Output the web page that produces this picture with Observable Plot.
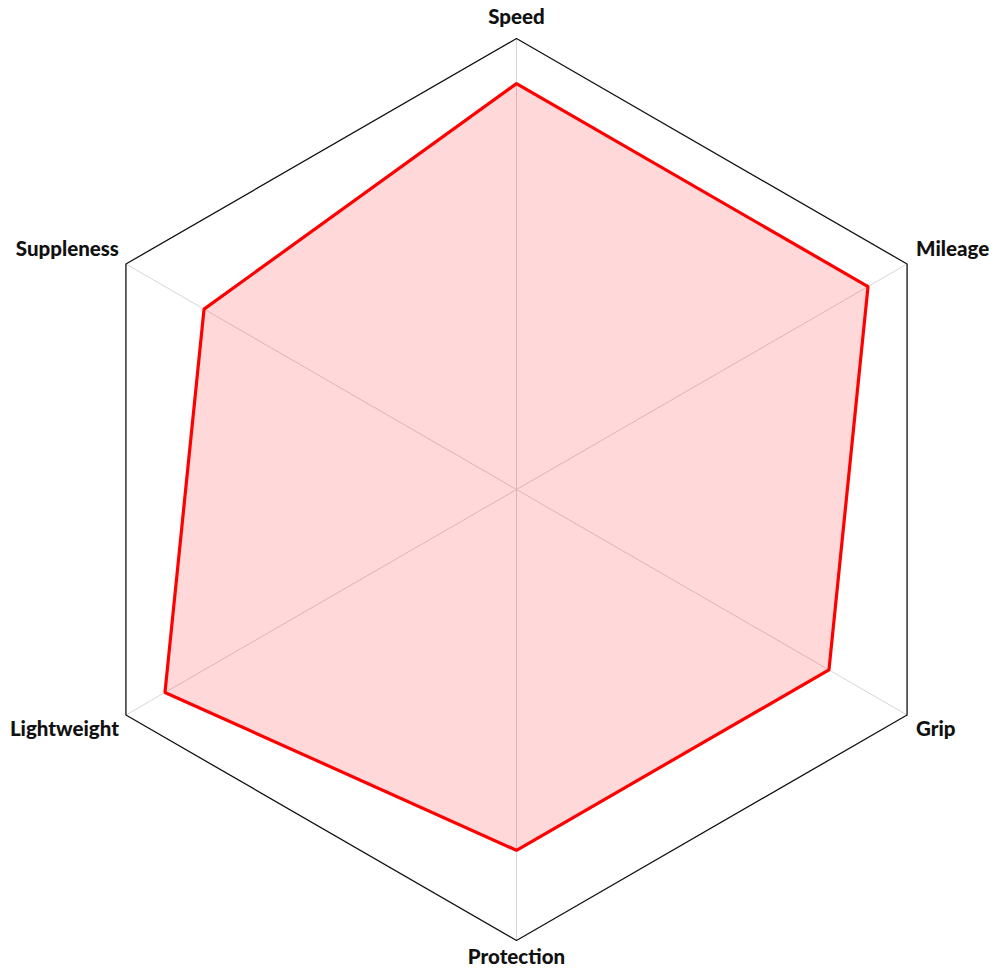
<!DOCTYPE html>
<html>
<head>
<meta charset="utf-8">
<script src="https://cdn.jsdelivr.net/npm/d3@7"></script>
<script src="https://cdn.jsdelivr.net/npm/@observablehq/plot@0.6"></script>
<style>
  html, body { margin: 0; padding: 0; background: #fff; }
</style>
</head>
<body>
<div id="chart"></div>
<script>
const categories = ["Speed", "Mileage", "Grip", "Protection", "Lightweight", "Suppleness"];
const values = [0.9, 0.9, 0.8, 0.8, 0.9, 0.8];
const maxValue = 1;

const n = categories.length;
const angle = i => (i * 2 * Math.PI) / n;
const pt = (i, r) => ({x: r * Math.sin(angle(i)), y: r * Math.cos(angle(i))});

const outer = categories.map((c, i) => ({name: c, ...pt(i, maxValue), i}));
const series = categories.map((c, i) => ({name: c, ...pt(i, values[i])}));
const spokes = outer.map(d => ({x1: 0, y1: 0, x2: d.x, y2: d.y}));

const labelMarks = outer.map(d => {
  const s = Math.sin(angle(d.i)), co = Math.cos(angle(d.i));
  const side = Math.abs(s) < 1e-6 ? 0 : Math.sign(s);
  const textAnchor = side === 0 ? "middle" : side > 0 ? "start" : "end";
  let dy;
  if (side === 0) dy = co > 0 ? -21 : 17;
  else dy = co > 0 ? -15 : 14;
  const dx = side === 0 ? 0 : side > 0 ? 9 : -7;
  return Plot.text([d], {
    x: "x", y: "y", text: "name", textAnchor, dx, dy,
    fontSize: 20.5, fontWeight: 900, fill: "#111",
    fontFamily: "Lato, 'Open Sans', sans-serif"
  });
});

const chart = Plot.plot({
  width: 1000,
  height: 975,
  margin: 0,
  x: {domain: [-1, 1], range: [65, 967], axis: null},
  y: {domain: [-1, 1], range: [940, 38], axis: null},
  marks: [
    Plot.link(spokes, {x1: "x1", y1: "y1", x2: "x2", y2: "y2", stroke: "#d6d6d6", strokeWidth: 1}),
    Plot.line(series, {x: "x", y: "y", curve: "linear-closed", fill: "red", fillOpacity: 0.15, stroke: "red", strokeWidth: 3.2, strokeLinejoin: "miter"}),
    Plot.line(outer, {x: "x", y: "y", curve: "linear-closed", stroke: "#111", strokeWidth: 1.3, strokeLinejoin: "miter"}),
    ...labelMarks
  ]
});
document.getElementById("chart").appendChild(chart);
</script>
</body>
</html>
